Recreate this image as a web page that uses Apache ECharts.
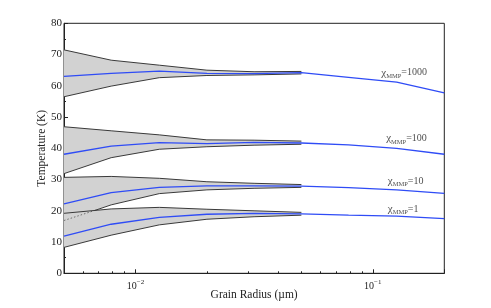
<!DOCTYPE html>
<html>
<head>
<meta charset="utf-8">
<script src="https://cdn.jsdelivr.net/npm/echarts@6/dist/echarts.min.js"></script>
<style>
  html, body { margin: 0; padding: 0; background: #fff; }
  #chart { width: 491px; height: 308px; }
</style>
</head>
<body>
<div id="chart"></div>
<script>
// ---- data ----
const radius = [0.005, 0.0079, 0.0126, 0.02, 0.0316, 0.05, 0.079, 0.126, 0.2];

const t1000 = [63.0, 64.0, 64.7, 64.0, 63.9, 64.2, 62.7, 61.2, 57.7];
const up1000 = [71.5, 68.2, 66.6, 65.0, 64.5, 64.6];
const lo1000 = [56.5, 59.9, 62.6, 63.3, 63.5, 63.8];

const t100 = [38.1, 40.7, 41.8, 41.5, 41.9, 41.7, 41.1, 40.0, 38.1];
const up100 = [46.9, 45.6, 44.3, 42.7, 42.6, 42.3];
const lo100 = [31.9, 37.0, 39.7, 40.5, 41.0, 41.3];

const t10 = [22.2, 25.8, 27.5, 28.0, 28.0, 27.9, 27.4, 26.7, 25.6];
const up10 = [30.7, 31.0, 30.4, 29.3, 28.8, 28.4];
const lo10 = [16.9, 21.9, 25.5, 26.7, 27.2, 27.5];

const t1 = [11.9, 15.7, 17.9, 18.9, 19.2, 19.0, 18.6, 18.3, 17.5];
const up1 = [19.2, 20.6, 21.1, 20.5, 20.0, 19.5];
const lo1 = [8.3, 12.2, 15.5, 17.3, 18.1, 18.6];

// point where the lower edge of the chi=10 band emerges from the chi=1 band (dotted before it)
const crossX = 0.00673;
const crossY = 20.1;

const minorTicks = [0.006, 0.007, 0.008, 0.009, 0.02, 0.03, 0.04, 0.05, 0.06, 0.07, 0.08, 0.09];

const labelTexts = ['1000', '100', '10', '1'];
const labelX = [0.1085, 0.1138, 0.1156, 0.1156];
const labelY = [64.2, 43.2, 29.5, 20.5];

// ---- chart ----
const FONT = "'Liberation Serif', 'DejaVu Serif', serif";
const BLUE = '#2f4cf6';
const GRAY = '#d2d2d2';
const EDGE = '#3a3a3a';
const INK = '#222';
const XMIN = 0.005, XMAX = 0.2;

function pairs(ys) { return ys.map((y, i) => [radius[i], y]); }

const bands = [
  { t: t1000, up: up1000, lo: lo1000 },
  { t: t100, up: up100, lo: lo100 },
  { t: t10, up: up10, lo: lo10 },
  { t: t1, up: up1, lo: lo1 }
];

const series = [];
bands.forEach((b) => {
  series.push({
    type: 'custom', silent: true, z: 1,
    data: pairs(b.up),
    renderItem: (params, api) => {
      if (params.dataIndex !== 0) return null;
      const pts = [];
      for (let i = 0; i < b.up.length; i++) pts.push(api.coord([radius[i], b.up[i]]));
      for (let i = b.lo.length - 1; i >= 0; i--) pts.push(api.coord([radius[i], b.lo[i]]));
      return { type: 'polygon', shape: { points: pts }, style: { fill: GRAY, stroke: null } };
    }
  });
});
bands.forEach((b, k) => {
  series.push({
    type: 'line', data: pairs(b.up), symbol: 'none',
    lineStyle: { color: EDGE, width: 1 }, z: 2, silent: true
  });
  if (k === 2) {
    const loPts = pairs(b.lo);
    series.push({
      type: 'line', data: [loPts[0], [crossX, crossY]], symbol: 'none',
      lineStyle: { color: '#555', width: 0.8, type: [1.5, 2] }, z: 2, silent: true
    });
    series.push({
      type: 'line', data: [[crossX, crossY]].concat(loPts.slice(1)), symbol: 'none',
      lineStyle: { color: EDGE, width: 1 }, z: 2, silent: true
    });
  } else {
    series.push({
      type: 'line', data: pairs(b.lo), symbol: 'none',
      lineStyle: { color: EDGE, width: 1 }, z: 2, silent: true
    });
  }
});
bands.forEach((b) => {
  series.push({
    type: 'line', data: pairs(b.t), symbol: 'none',
    lineStyle: { color: BLUE, width: 1.3 }, z: 3, silent: true
  });
});
series.push({
  type: 'scatter', symbolSize: 0, z: 4, silent: true,
  data: labelTexts.map((s, i) => ({ value: [labelX[i], labelY[i]], name: s })),
  label: {
    show: true, position: 'right', distance: 0,
    formatter: p => '{g|χ}{s|MMP}{t|=' + p.name + '}',
    rich: {
      g: { fontFamily: FONT, fontSize: 11, color: INK, lineHeight: 14, verticalAlign: 'middle' },
      s: { fontFamily: FONT, fontSize: 6.5, color: INK, lineHeight: 7, verticalAlign: 'bottom' },
      t: { fontFamily: FONT, fontSize: 10, color: INK, lineHeight: 14, verticalAlign: 'middle' }
    }
  }
});

const option = {
  animation: false,
  backgroundColor: '#fff',
  grid: {
    left: 64, top: 23.3, right: 46.7, bottom: 34.7, containLabel: false, outerBoundsMode: 'none',
    show: true, borderColor: INK, borderWidth: 1, backgroundColor: 'transparent'
  },
  xAxis: [
    {
      type: 'log', logBase: 10, min: XMIN, max: XMAX, position: 'bottom',
      name: 'Grain Radius (µm)', nameLocation: 'middle', nameGap: 16, nameMoveOverlap: false,
      nameTextStyle: { fontFamily: FONT, fontSize: 11.5, color: INK },
      axisLine: { lineStyle: { color: INK, width: 1 } },
      axisTick: { inside: true, length: 4, lineStyle: { color: INK } },
      axisLabel: {
        margin: 5,
        formatter: v => {
          const e = Math.log10(v);
          if (Math.abs(e - Math.round(e)) > 1e-6) return '';
          return '{n|10}{e|−' + (-Math.round(e)) + '}';
        },
        rich: {
          n: { fontFamily: FONT, fontSize: 10, color: INK, lineHeight: 16, verticalAlign: 'middle' },
          e: { fontFamily: FONT, fontSize: 7, color: INK, lineHeight: 8, verticalAlign: 'top' }
        }
      },
      splitLine: { show: false }
    },
    {
      // helper axis in log10 space, only for the minor ticks
      type: 'value', min: Math.log10(XMIN), max: Math.log10(XMAX), position: 'bottom', gridIndex: 0,
      axisLine: { show: true, lineStyle: { color: INK, width: 1, opacity: 0 } },
      axisTick: { show: true, inside: true, length: 2, lineStyle: { color: INK }, customValues: minorTicks.map(v => Math.log10(v)) },
      axisLabel: { show: false },
      splitLine: { show: false }
    }
  ],
  yAxis: {
    type: 'value', min: 0, max: 80, interval: 10,
    name: 'Temperature (K)', nameLocation: 'middle', nameGap: 16, nameMoveOverlap: false,
    nameTextStyle: { fontFamily: FONT, fontSize: 11.5, color: INK },
    axisLine: { show: true, lineStyle: { color: INK, width: 1 } },
    axisTick: { inside: true, length: 4, lineStyle: { color: INK } },
    minorTick: { show: true, splitNumber: 2, length: 2, lineStyle: { color: INK } },
    axisLabel: { margin: 2, fontFamily: FONT, fontSize: 11, color: INK },
    splitLine: { show: false }
  },
  series: series
};

const chart = echarts.init(document.getElementById('chart'), null, { renderer: 'canvas' });
chart.setOption(option);
</script>
</body>
</html>
